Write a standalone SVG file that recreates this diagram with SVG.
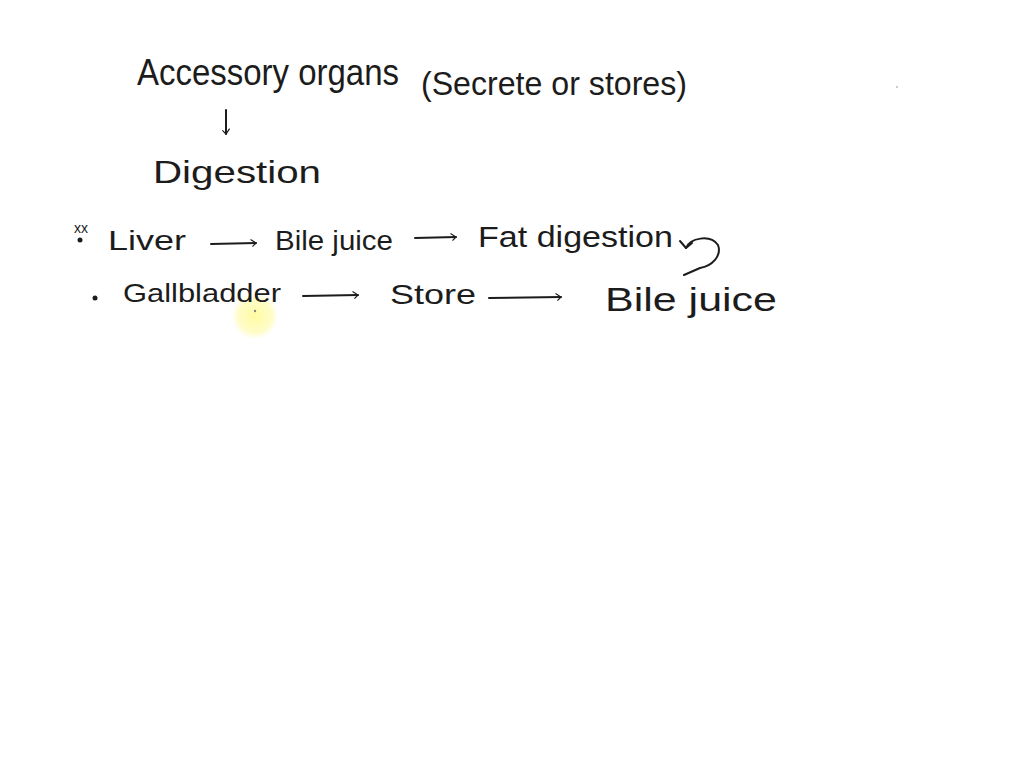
<svg xmlns="http://www.w3.org/2000/svg" width="1024" height="768" viewBox="0 0 1024 768">
<defs>
<style>
.t{font-family:"Liberation Sans","DejaVu Sans",sans-serif;fill:#1c1c1c;}
.c{fill:none;stroke:#1c1c1c;stroke-width:2;stroke-linecap:round;stroke-linejoin:round;}
</style>
<marker id="ah" viewBox="0 0 10 10" refX="9" refY="5" markerWidth="9" markerHeight="9" markerUnits="userSpaceOnUse" orient="auto">
<path d="M3,1 L9,5 L5,9" fill="none" stroke="#1c1c1c" stroke-width="1.3"/>
</marker>
<radialGradient id="hl">
<stop offset="0" stop-color="#fffb9c" stop-opacity="0.95"/>
<stop offset="0.7" stop-color="#fffbb0" stop-opacity="0.7"/>
<stop offset="1" stop-color="#fffbd0" stop-opacity="0"/>
</radialGradient>
</defs>
<rect width="1024" height="768" fill="#ffffff"/>
<circle cx="255" cy="316" r="24" fill="url(#hl)"/>
<circle cx="255" cy="311" r="1.2" fill="#888"/>
<circle cx="897" cy="87" r="1" fill="#bbb"/>

<g id="title">
<text class="t" x="137" y="85" font-size="36" textLength="262" lengthAdjust="spacingAndGlyphs">Accessory organs</text>
<text class="t" x="421" y="95" font-size="34" textLength="266" lengthAdjust="spacingAndGlyphs">(Secrete or stores)</text>
</g>
<g id="digestion">
<text class="t" x="153" y="183" font-size="32" textLength="168" lengthAdjust="spacingAndGlyphs">Digestion</text>
</g>
<g id="liver">
<text class="t" x="74" y="233" font-size="14">xx</text>
<circle cx="80" cy="240" r="2.5" fill="#1c1c1c"/>
<text class="t" x="108" y="250" font-size="28" textLength="78" lengthAdjust="spacingAndGlyphs">Liver</text>
</g>
<g id="bile-juice-1">
<text class="t" x="275" y="250" font-size="28" textLength="118" lengthAdjust="spacingAndGlyphs">Bile juice</text>
</g>
<g id="fat-digestion">
<text class="t" x="478" y="247" font-size="30" textLength="195" lengthAdjust="spacingAndGlyphs">Fat digestion</text>
</g>
<g id="gallbladder">
<circle cx="95" cy="298" r="2.5" fill="#1c1c1c"/>
<text class="t" x="123" y="302" font-size="26" textLength="158" lengthAdjust="spacingAndGlyphs">Gallbladder</text>
</g>
<g id="store">
<text class="t" x="390" y="304" font-size="28" textLength="86" lengthAdjust="spacingAndGlyphs">Store</text>
</g>
<g id="bile-juice-2">
<text class="t" x="605" y="311" font-size="34" textLength="172" lengthAdjust="spacingAndGlyphs">Bile juice</text>
</g>

<g id="connectors">
<path class="c" d="M226,110 L226,134" marker-end="url(#ah)"/>
<path class="c" d="M211,244 L256,243" marker-end="url(#ah)"/>
<path class="c" d="M415,238 L456,237" marker-end="url(#ah)"/>
<path class="c" d="M686,248 C690,238 710,234 718,245 C722,256 712,266 700,268 L684,275"/>
<path class="c" d="M680,241 L686,248 L692,243"/>
<path class="c" d="M303,296 L358,295" marker-end="url(#ah)"/>
<path class="c" d="M489,298 L561,297" marker-end="url(#ah)"/>
</g>
</svg>
